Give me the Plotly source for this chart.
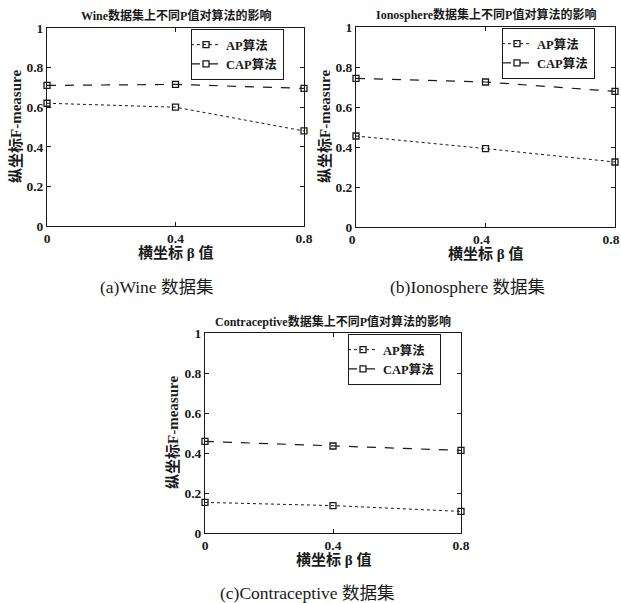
import plotly.graph_objects as go

W, H = 621, 603

beta = [0, 0.4, 0.8]
x_ticks = [0, 0.4, 0.8]
x_tick_labels = ["0", "0.4", "0.8"]
y_ticks = [0, 0.2, 0.4, 0.6, 0.8, 1]
y_tick_labels = ["0", "0.2", "0.4", "0.6", "0.8", "1"]

wine_ap = [0.62, 0.60, 0.48]
wine_cap = [0.71, 0.715, 0.695]
iono_ap = [0.455, 0.392, 0.325]
iono_cap = [0.743, 0.725, 0.678]
contra_ap = [0.153, 0.137, 0.108]
contra_cap = [0.458, 0.435, 0.413]

series_names = ["AP算法", "CAP算法"]
titles = ["Wine数据集上不同P值对算法的影响",
          "Ionosphere数据集上不同P值对算法的影响",
          "Contraceptive数据集上不同P值对算法的影响"]
captions = ["(a)Wine 数据集", "(b)Ionosphere 数据集", "(c)Contraceptive 数据集"]
x_title = "横坐标 β 值"
y_title = "纵坐标F-measure"

# plot boxes in pixels: left, right, top, bottom
boxes = [(47, 304, 28, 226), (356, 615, 27, 227), (205, 461, 333, 533)]
xlabel_shift = [0, -4, 0]
data = [(wine_ap, wine_cap), (iono_ap, iono_cap), (contra_ap, contra_cap)]

SERIF = "Liberation Serif, Noto Sans CJK SC, serif"
ink = "#1a1a1a"

fig = go.Figure()
annotations = []

def px_x(v):
    return v / W

def px_y(v):
    return 1 - v / H

for i, ((l, r, t, b), (ap, cap)) in enumerate(zip(boxes, data)):
    n = "" if i == 0 else str(i + 1)
    xa, ya = "x" + n, "y" + n
    leg = "legend" + n
    fig.add_trace(go.Scatter(
        x=beta, y=ap, name=series_names[0], mode="lines+markers",
        line=dict(color=ink, width=1, dash="dot"),
        marker=dict(symbol="square-open", size=6, color=ink, line=dict(width=1.3)),
        xaxis=xa, yaxis=ya, legend=leg, cliponaxis=False))
    fig.add_trace(go.Scatter(
        x=beta, y=cap, name=series_names[1], mode="lines+markers",
        line=dict(color=ink, width=1.2, dash="dash"),
        marker=dict(symbol="square-open", size=6, color=ink, line=dict(width=1.3)),
        xaxis=xa, yaxis=ya, legend=leg, cliponaxis=False))

    axis_common = dict(showline=True, linecolor=ink, linewidth=1, mirror="ticks",
                       ticks="inside", ticklen=4, tickcolor=ink, showgrid=False,
                       zeroline=False, automargin=False, ticklabeloverflow="allow",
                       tickfont=dict(family=SERIF, size=13.5, color=ink, weight="bold"))
    fig.layout["xaxis" + n] = dict(domain=[px_x(l), px_x(r)], range=[0, 0.8],
                                   tickvals=x_ticks, ticktext=x_tick_labels,
                                   ticklabelshift=xlabel_shift[i],
                                   anchor=ya, **axis_common)
    fig.layout["yaxis" + n] = dict(domain=[px_y(b), px_y(t)], range=[0, 1],
                                   tickvals=y_ticks, ticktext=y_tick_labels,
                                   anchor=xa, ticklabelstandoff=0, **axis_common)
    fig.layout[leg] = dict(x=px_x(r - 20), y=px_y(t + 1), xanchor="right", yanchor="top",
                           xref="paper", yref="paper",
                           bgcolor="white", bordercolor=ink, borderwidth=1,
                           font=dict(family=SERIF, size=12.5, color=ink, weight="bold"),
                           itemwidth=30, tracegroupgap=0, indentation=-6,
                           itemclick=False)

    cx = (l + r) / 2
    annotations.append(dict(text="<b>" + titles[i] + "</b>", x=px_x(cx), y=px_y(t - 12),
                            xanchor="center", yanchor="middle",
                            xref="paper", yref="paper", showarrow=False,
                            font=dict(family=SERIF, size=12, color=ink)))
    annotations.append(dict(text="<b>" + x_title + "</b>", x=px_x(cx), y=px_y(b + 27),
                            xanchor="center", yanchor="middle",
                            xref="paper", yref="paper", showarrow=False,
                            font=dict(family=SERIF, size=15, color=ink)))
    annotations.append(dict(text="<b>" + y_title + "</b>", x=px_x(l - 32), y=px_y((t + b) / 2),
                            xanchor="center", yanchor="middle",
                            xref="paper", yref="paper", showarrow=False, textangle=-90,
                            font=dict(family=SERIF, size=15, color=ink)))

caption_pos = [(157, 287), (467, 287), (307, 593)]
for cap_text, (cx, cy) in zip(captions, caption_pos):
    annotations.append(dict(text=cap_text, x=px_x(cx), y=px_y(cy),
                            xanchor="center", yanchor="middle",
                            xref="paper", yref="paper", showarrow=False,
                            font=dict(family=SERIF, size=17.5, color=ink)))

fig.update_layout(width=W, height=H, margin=dict(l=0, r=0, t=0, b=0, autoexpand=False),
                  paper_bgcolor="white", plot_bgcolor="white",
                  annotations=annotations, showlegend=True)

fig.write_html("out.html", config={"displayModeBar": False},
               post_script="document.body.style.margin='0px';")
